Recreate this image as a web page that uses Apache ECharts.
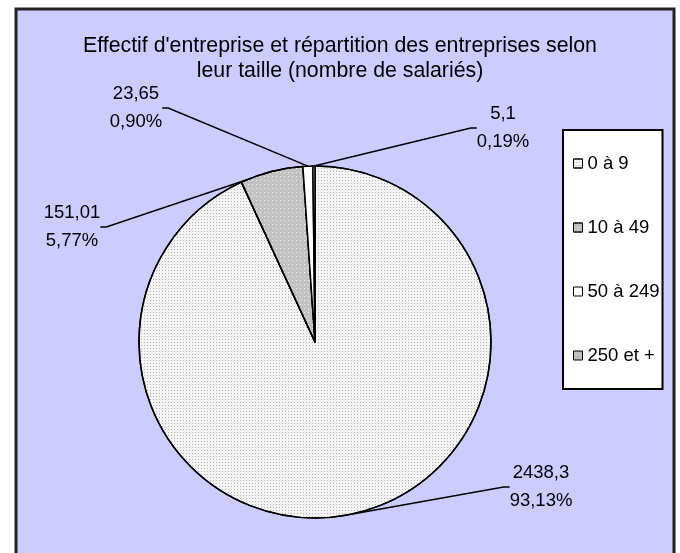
<!DOCTYPE html>
<html><head><meta charset="utf-8">
<script src="https://cdn.jsdelivr.net/npm/echarts/dist/echarts.min.js"></script>
<style>html,body{margin:0;padding:0;background:#fff}#c{width:680px;height:553px}</style>
</head><body><div id="c"></div>
<script>
// ---- data ----
const categories = ['0 à 9', '10 à 49', '50 à 249', '250 et +'];
const values = [2438.3, 151.01, 23.65, 5.1];
const titleText = "Effectif d'entreprise et répartition des entreprises selon\nleur taille (nombre de salariés)";

// ---- helpers ----
const total = values.reduce((a, b) => a + b, 0);
const fmtVal = v => String(v).replace('.', ',');
const fmtPct = v => (v / total * 100).toFixed(2).replace('.', ',') + '%';

// ---- styles ----
const FONT = 'Liberation Sans, Arial, sans-serif';
const labelCenters = [[541, 487], [72, 227], [136, 108], [503, 128]];
const sliceStyles = [
  { color: '#F4F4F4', decal: { symbol: 'rect', symbolSize: 1, color: '#B4B4B4', dashArrayX: [1, 2], dashArrayY: [1, 2] } },
  { color: '#C2C2C2', decal: { symbol: 'rect', symbolSize: 1, color: '#EEEEEE', dashArrayX: [1, 3], dashArrayY: [1, 3] } },
  { color: '#FFFFFF' },
  { color: '#BDBDBD' }
];

const chart = echarts.init(document.getElementById('c'), null, { renderer: 'canvas' });
chart.setOption({
  backgroundColor: '#ffffff',
  animation: false,
  graphic: [{
    type: 'rect', silent: true, z: -10,
    shape: { x: 16, y: 9, width: 658, height: 560 },
    style: { fill: '#CCCCFF', stroke: '#222', lineWidth: 3 }
  }],
  title: {
    text: titleText,
    left: 'center', top: 29,
    textStyle: { fontFamily: FONT, fontSize: 21.3, fontWeight: 'normal', color: '#000', lineHeight: 25 }
  },
  legend: {
    orient: 'vertical', left: 563, top: 130,
    data: categories,
    selectedMode: false,
    backgroundColor: '#ffffff', borderColor: '#000', borderWidth: 2,
    padding: [24, 3, 24, 10],
    itemGap: 45, itemWidth: 9, itemHeight: 9, itemTextGap: 15,
    icon: 'rect',
    itemStyle: { borderColor: '#000', borderWidth: 1 },
    textStyle: { fontFamily: FONT, fontSize: 18.5, color: '#000' }
  },
  series: [{
    type: 'pie',
    center: [315, 342],
    radius: 176,
    startAngle: 90,
    clockwise: true,
    avoidLabelOverlap: false,
    data: categories.map((c, i) => ({ name: c, value: values[i], itemStyle: sliceStyles[i] })),
    itemStyle: { borderColor: '#000', borderWidth: 1.5 },
    emphasis: { disabled: true },
    label: {
      show: true,
      formatter: p => fmtVal(p.value) + '\n' + fmtPct(p.value),
      fontFamily: FONT, fontSize: 18.5, lineHeight: 28, color: '#000'
    },
    labelLine: { show: true, length: 10, length2: 6, lineStyle: { color: '#000', width: 1.5 } },
    labelLayout: p => {
      const c = labelCenters[p.dataIndex];
      return { x: c[0], y: c[1], align: 'center', verticalAlign: 'middle' };
    }
  }]
});
</script></body></html>
